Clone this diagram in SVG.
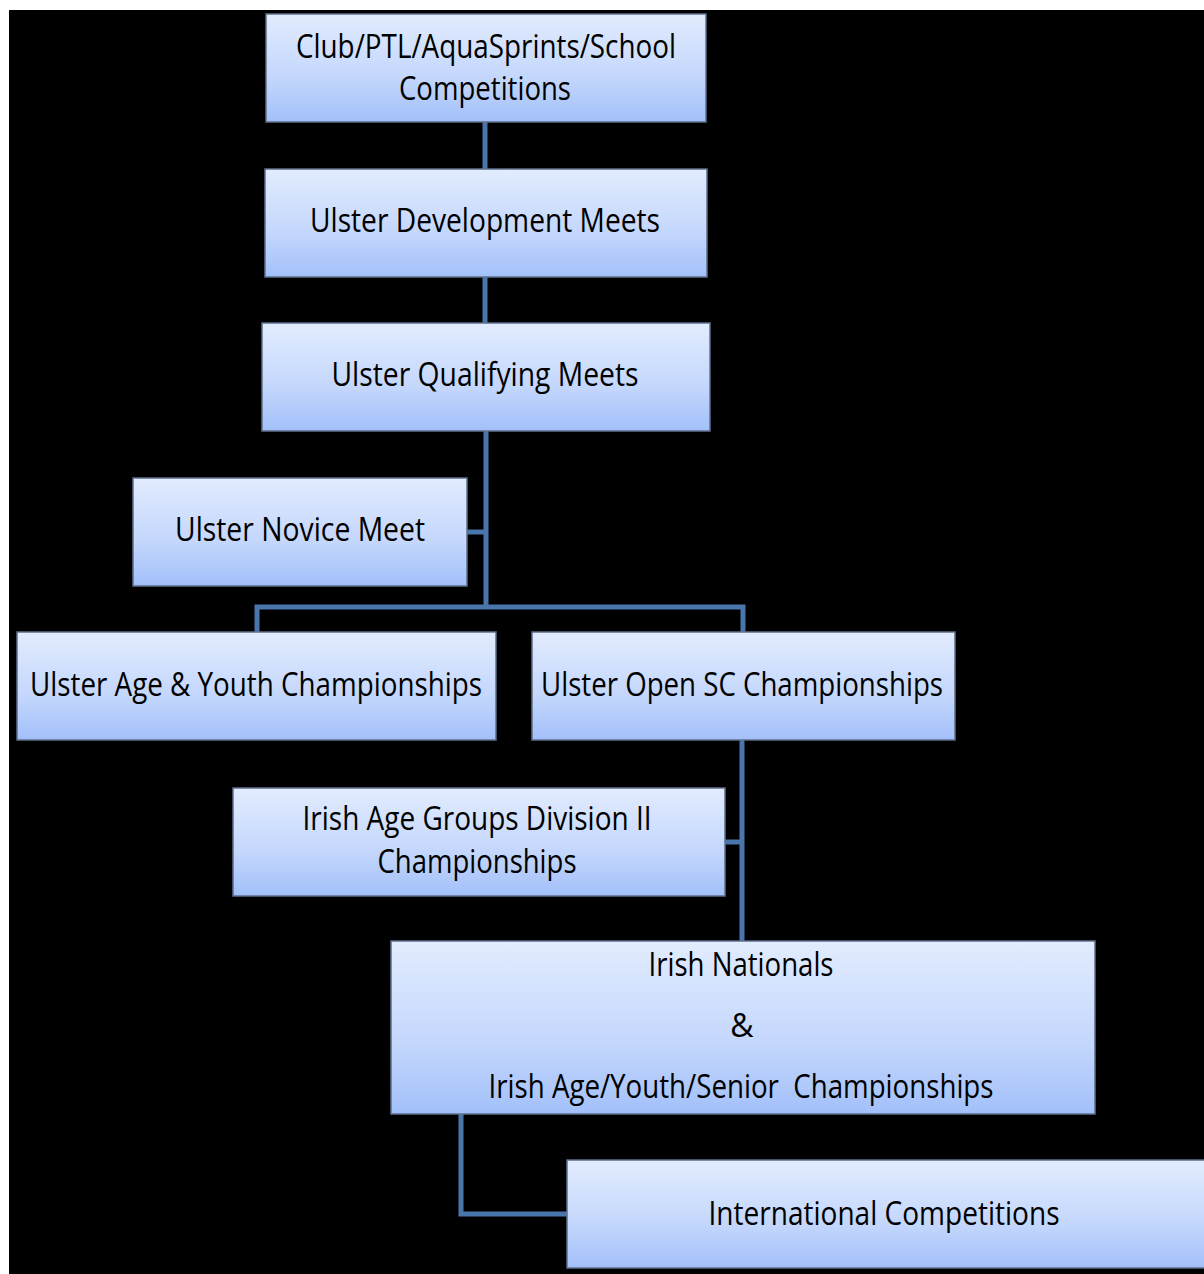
<svg xmlns="http://www.w3.org/2000/svg" width="1204" height="1274" viewBox="0 0 1204 1274">
<defs>
<linearGradient id="g" x1="0" y1="0" x2="0" y2="1">
<stop offset="0" stop-color="#e2ecfe"/>
<stop offset="0.6" stop-color="#c3d6fc"/>
<stop offset="1" stop-color="#a2c0fa"/>
</linearGradient>
<style>
.box{fill:url(#g);stroke:#5f6f8a;stroke-width:1.5}
.t{font-family:"Open Sans","Liberation Sans",sans-serif;font-size:32px;fill:#000;text-anchor:middle}
.c{fill:none;stroke:#4a76ab;stroke-width:5;stroke-linejoin:miter}
</style>
</defs>
<rect x="0" y="0" width="1204" height="1274" fill="#fff"/>
<rect x="9" y="10" width="1195" height="1264" fill="#000"/>
<g id="connectors">
<path class="c" d="M485 122V169"/>
<path class="c" d="M485 277V323"/>
<path class="c" d="M486 431V607"/>
<path class="c" d="M467 532H486"/>
<path class="c" d="M257 632V607H743V632"/>
<path class="c" d="M742 740V941"/>
<path class="c" d="M725 842H742"/>
<path class="c" d="M461 1114V1214H567"/>
</g>
<g id="n1"><rect class="box" x="266" y="14" width="440" height="108"/>
<text class="t" x="486" y="58" textLength="380" lengthAdjust="spacingAndGlyphs">Club/PTL/AquaSprints/School</text>
<text class="t" x="485" y="100" textLength="172" lengthAdjust="spacingAndGlyphs">Competitions</text></g>
<g id="n2"><rect class="box" x="265" y="169" width="442" height="108"/>
<text class="t" x="485" y="232" textLength="350" lengthAdjust="spacingAndGlyphs">Ulster Development Meets</text></g>
<g id="n3"><rect class="box" x="262" y="323" width="448" height="108"/>
<text class="t" x="485" y="386" textLength="307" lengthAdjust="spacingAndGlyphs">Ulster Qualifying Meets</text></g>
<g id="n4"><rect class="box" x="133" y="478" width="334" height="108"/>
<text class="t" x="300" y="541" textLength="250" lengthAdjust="spacingAndGlyphs">Ulster Novice Meet</text></g>
<g id="n5"><rect class="box" x="17" y="632" width="479" height="108"/>
<text class="t" x="256" y="696" textLength="452" lengthAdjust="spacingAndGlyphs">Ulster Age &amp; Youth Championships</text></g>
<g id="n6"><rect class="box" x="532" y="632" width="423" height="108"/>
<text class="t" x="742" y="696" textLength="402" lengthAdjust="spacingAndGlyphs">Ulster Open SC Championships</text></g>
<g id="n7"><rect class="box" x="233" y="788" width="492" height="108"/>
<text class="t" x="477" y="830" textLength="349" lengthAdjust="spacingAndGlyphs">Irish Age Groups Division II</text>
<text class="t" x="477" y="873" textLength="199" lengthAdjust="spacingAndGlyphs">Championships</text></g>
<g id="n8"><rect class="box" x="391" y="941" width="704" height="173"/>
<text class="t" x="741" y="976" textLength="185" lengthAdjust="spacingAndGlyphs">Irish Nationals</text>
<text class="t" x="742" y="1037">&amp;</text>
<text class="t" x="741" y="1098" textLength="505" lengthAdjust="spacingAndGlyphs">Irish Age/Youth/Senior&#160; Championships</text></g>
<g id="n9"><rect class="box" x="567" y="1160" width="645" height="108"/>
<text class="t" x="884" y="1225" textLength="351" lengthAdjust="spacingAndGlyphs">International Competitions</text></g>
</svg>
